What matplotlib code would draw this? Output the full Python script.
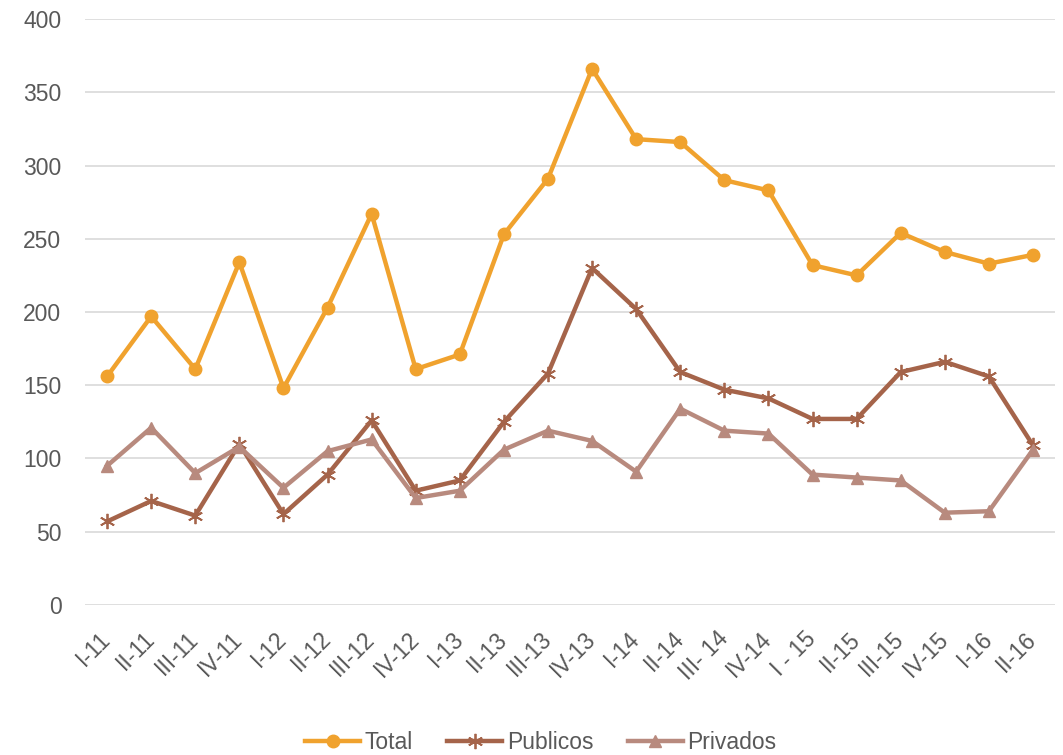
import matplotlib.pyplot as plt
import numpy as np

plt.rcParams['font.family'] = ['Liberation Sans', 'DejaVu Sans']

periodos = ['I-11', 'II-11', 'III-11', 'IV-11', 'I-12', 'II-12', 'III-12', 'IV-12',
            'I-13', 'II-13', 'III-13', 'IV-13', 'I-14', 'II-14', 'III- 14', 'IV-14',
            'I - 15', 'II-15', 'III-15', 'IV-15', 'I-16', 'II-16']
total = [156, 197, 161, 234, 148, 203, 267, 161, 171, 253, 291, 366,
         318, 316, 290, 283, 232, 225, 254, 241, 233, 239]
publicos = [57, 71, 61, 110, 62, 89, 126, 78, 85, 125, 158, 230,
            202, 159, 147, 141, 127, 127, 159, 166, 156, 109]
privados = [95, 121, 90, 108, 80, 105, 113, 73, 78, 106, 119, 112,
            91, 134, 119, 117, 89, 87, 85, 63, 64, 106]

fig = plt.figure(figsize=(10.63, 7.55), dpi=100)
ax = fig.add_axes([0.08, 0.1987, 0.9125, 0.7761])

x = np.arange(len(periodos))
ax.plot(x, total, color='#F0A22E', lw=3.2, marker='o', ms=9, label='Total')
ax.plot(x, publicos, color='#A5644A', lw=3.2, marker=(6, 2, 0), ms=11, mew=1.3, label='Publicos')
ax.plot(x, privados, color='#B88A7E', lw=3.2, marker='^', ms=9, label='Privados')

ax.set_ylim(0, 400)
ax.set_xlim(-0.5, len(periodos) - 0.5)
ax.set_yticks(range(0, 401, 50))
ax.set_xticks(x)
ax.set_xticklabels(periodos, rotation=45, ha='right', va='center', rotation_mode='anchor')
ax.tick_params(axis='both', length=0, labelsize=16.5, colors='#595959')
ax.tick_params(axis='x', pad=22)
ax.tick_params(axis='y', pad=17)
ax.grid(axis='y', color='#D9D9D9', lw=1.2)
ax.set_axisbelow(True)
for s in ax.spines.values():
    s.set_visible(False)

ax.legend(loc='lower center', bbox_to_anchor=(0.47, -0.29), ncol=3, frameon=False,
          fontsize=16.5, labelcolor='#595959', handlelength=2.4, columnspacing=1.5,
          handletextpad=0.2)

fig.savefig('out.png', dpi=100)
